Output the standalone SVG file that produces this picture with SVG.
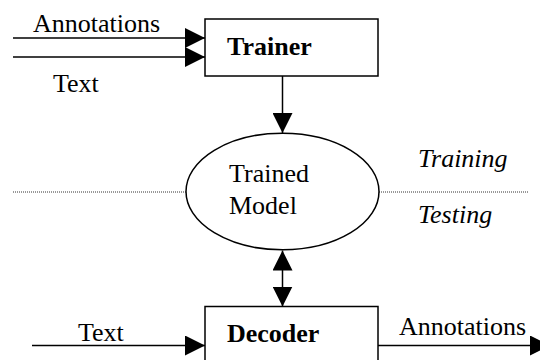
<svg xmlns="http://www.w3.org/2000/svg" width="540" height="360" viewBox="0 0 540 360">
  <style>
    .box { fill: #fff; stroke: #000; stroke-width: 1.5; }
    .wire { fill: none; stroke: #000; stroke-width: 1.5; }
    .sep { fill: none; stroke: #333; stroke-width: 1; stroke-dasharray: 1 1; }
    text { font-family: "Liberation Serif", "Times New Roman", serif; font-size: 26px; fill: #000; }
    .bold { font-weight: bold; }
    .ital { font-style: italic; }
  </style>
  <defs>
    <marker id="head" markerUnits="userSpaceOnUse" markerWidth="20" markerHeight="20" refX="20" refY="10" orient="auto-start-reverse">
      <path d="M0,0 L20,10 L0,20 Z" fill="#000"/>
    </marker>
  </defs>
  <rect width="540" height="360" fill="#fff"/>

  <!-- phase separator -->
  <g id="separator">
    <line class="sep" x1="13" y1="192" x2="186" y2="192"/>
    <line class="sep" x1="379" y1="192" x2="528" y2="192"/>
    <text class="ital" x="418" y="167">Training</text>
    <text class="ital" x="418" y="223">Testing</text>
  </g>

  <g id="connectors">
    <line class="wire" x1="13" y1="38" x2="205" y2="38" marker-end="url(#head)"/>
    <line class="wire" x1="13" y1="57" x2="205" y2="57" marker-end="url(#head)"/>
    <text x="33" y="32">Annotations</text>
    <text x="53" y="92">Text</text>
    <line class="wire" x1="282.5" y1="76" x2="282.5" y2="133" marker-end="url(#head)"/>
    <line class="wire" x1="282.5" y1="250.5" x2="282.5" y2="306.5" marker-start="url(#head)" marker-end="url(#head)"/>
    <line class="wire" x1="32" y1="345.5" x2="205" y2="345.5" marker-end="url(#head)"/>
    <text x="78" y="341">Text</text>
    <line class="wire" x1="378" y1="345.5" x2="550" y2="345.5" marker-end="url(#head)"/>
    <text x="399" y="335">Annotations</text>
  </g>

  <g id="trainer">
    <rect class="box" x="205" y="19" width="173" height="57"/>
    <text class="bold" x="227" y="55">Trainer</text>
  </g>

  <g id="model">
    <ellipse class="box" cx="282.5" cy="191.5" rx="96.5" ry="58.3"/>
    <text x="229" y="182">Trained</text>
    <text x="229" y="214">Model</text>
  </g>

  <g id="decoder">
    <rect class="box" x="205" y="306.5" width="173" height="70"/>
    <text class="bold" x="227" y="342">Decoder</text>
  </g>
</svg>
